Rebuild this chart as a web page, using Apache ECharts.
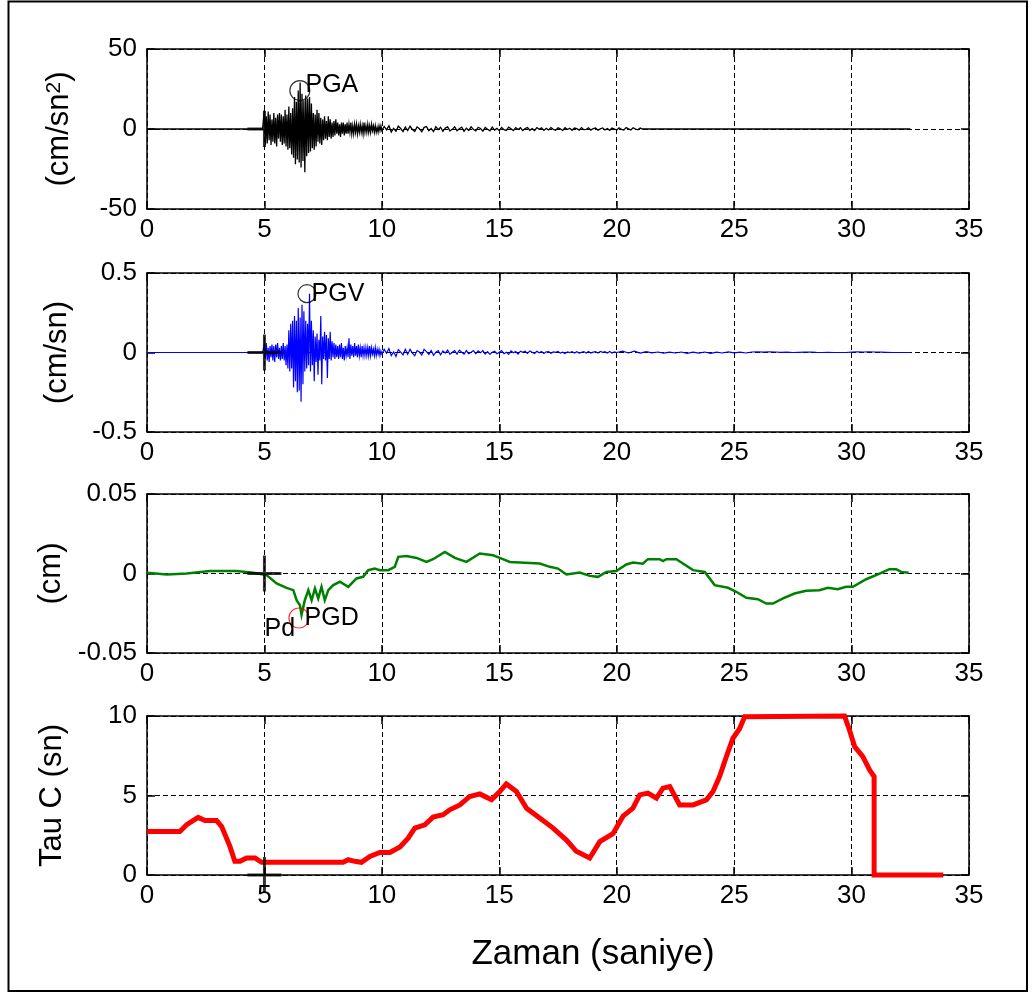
<!DOCTYPE html>
<html>
<head>
<meta charset="utf-8">
<script src="https://cdn.jsdelivr.net/npm/echarts@6/dist/echarts.min.js"></script>
<style>
  html, body { margin: 0; padding: 0; background: #fff; }
  #chart { width: 1034px; height: 999px; }
</style>
</head>
<body>
<div id="chart"></div>
<script>
// ---------- tick labels ----------
const xTicks = [0, 5, 10, 15, 20, 25, 30, 35];
const accTicks = [-50, 0, 50];
const velTicks = [-0.5, 0, 0.5];
const dispTicks = [-0.05, 0, 0.05];
const tauTicks = [0, 5, 10];

// ---------- acceleration (cm/sn^2) ----------
const accQuiet = [[0, 0], [4.92, 0]];
const accBurstStart = 4.96, accBurstStep = 0.04;
const accBurst = [
  0, 12, -10, 8, -9, 11, -7, 9, -10, 6,
  -8, 10, -9, 7, -11, 9, -6, 10, -8, 9,
  -10, 8, -9, 12, -11, 9, -13, 14, -12, 10,
  -16, 13, -18, 20, -22, 17, -19, 24, -21, 29,
  -24, 22, -20, 18, -27, 21, -17, 19, -15, 20,
  -14, 16, -12, 10, -13, 9, -11, 12, -8, 10,
  -9, 7, -10, 6, -7, 8, -6, 5, -7, 8,
  -5, 6, -6, 4, -5, 5, -4, 6, -3, 4,
  -4, 3, -5, 4, -3, 4, -4, 3, -3, 4,
  -3, 3, -2, 4, -3, 2, -3, 3, -2, 3,
  -3, 2, -2, 3, -2, 2, -3, 4, -2, 2,
  -2, 3, -2, 2, -2, 3, -1, 2, -2, 2,
  -2, 1, -2, 2, -1, 2, -1
];
const accTailStart = 10.1, accTailStep = 0.1;
const accTail = [
  1.6, -0.5, 2.0, -1.9, 0.4, -1.4, 1.8, 0.3, -1.6, 1.2,
  -1.0, 1.7, -0.3, -1.5, 1.3, 0.2, -1.8, 1.0, 1.5, -1.1,
  0.3, -1.6, 1.4, -0.4, 1.1, -1.5, 0.6, 1.3, -1.2, -0.2,
  1.4, -1.1, 0.2, 1.2, -1.4, 0.5, -0.9, 1.3, -0.3, -1.2,
  1.1, 0.3, -1.3, 1.0, -0.2, -1.1, 1.2, -0.7, 0.4, -1.0,
  1.0, -0.4, -0.9, 1.1, 0.2, -1.0, 0.9, -0.3, 0.8, -1.0,
  0.3, 0.9, -0.8, 0.2, -1.0, 0.9, -0.2, 0.7, -0.9, 0.4,
  -0.6, 0.9, -0.2, -0.8, 0.7, 0.1, -0.9, 0.8, -0.3, 0.5,
  -0.8, 0.6, 0.2, -0.7, 0.9, -0.4, -0.2, 0.8, -0.7, 0.3,
  0.6, -0.8, 0.1, 0.7, -0.6, 0.3, -0.8, 0.6, 0.0, -0.6,
  0.8, -0.2, -0.7, 0.9, 0.1, -0.6, 0.7, 0, -0.5, 0.6
];
const accLate = [
  [21.1, 0], [22.0, 0], [22.02, -0.9], [22.05, 0], [22.3, 0], [22.32, 0.7],
  [22.35, 0], [23.22, 0], [23.25, 0.9], [23.28, 0], [32.5, 0]
];

// ---------- velocity (cm/sn) ----------
const velQuiet = [[0, 0], [4.92, 0]];
const velBurstStart = 4.96, velBurstStep = 0.04;
const velBurst = [
  0, 0.05, -0.04, 0.06, -0.05, 0.03, -0.06, 0.04, -0.03, 0.05,
  -0.05, 0.04, -0.06, 0.05, -0.03, 0.06, -0.04, 0.03, -0.05, 0.04,
  -0.04, 0.06, -0.05, 0.04, -0.08, 0.05, -0.1, 0.14, -0.12, 0.18,
  -0.1, 0.2, -0.22, 0.23, -0.18, 0.2, -0.25, 0.28, -0.24, 0.22,
  -0.31, 0.3, -0.2, 0.26, -0.12, 0.2, -0.1, 0.18, -0.08, 0.37,
  -0.12, 0.2, -0.08, 0.14, -0.18, 0.1, -0.06, 0.12, -0.14, 0.08,
  -0.05, 0.23, -0.2, 0.1, -0.04, 0.13, -0.05, 0.11, -0.16, 0.09,
  -0.04, 0.13, -0.05, 0.07, -0.03, 0.06, -0.04, 0.05, -0.03, 0.04,
  -0.04, 0.05, -0.03, 0.06, -0.04, 0.03, -0.05, 0.04, -0.02, 0.03,
  -0.03, 0.09, -0.04, 0.05, -0.02, 0.04, -0.03, 0.06, -0.02, 0.04,
  -0.03, 0.05, -0.02, 0.03, -0.03, 0.04, -0.02, 0.03, -0.02, 0.03,
  -0.02, 0.03, -0.02, 0.04, -0.02, 0.03, -0.01, 0.02, -0.02, 0.03,
  -0.02, 0.02, -0.01, 0.02, -0.02, 0.01, -0.01
];
const velTailStart = 10.1, velTailStep = 0.1;
const velTail = [
  0.02, -0.005, 0.025, -0.02, 0.004, -0.025, 0.018, 0.002, -0.015, 0.02,
  -0.012, 0.02, -0.004, -0.02, 0.012, 0.003, -0.016, 0.02, 0.006, -0.012,
  0.012, -0.018, 0.002, 0.012, -0.015, 0.01, -0.004, 0.015, -0.012, 0.001,
  0.012, -0.01, 0.015, 0.002, -0.01, 0.012, -0.008, 0.001, 0.012, -0.008,
  0.01, -0.002, 0.012, -0.01, 0.006, -0.012, 0.002, 0.008, -0.008, 0.001,
  0.012, -0.008, 0.002, -0.012, 0.01, -0.002, 0.006, -0.01, 0.008, 0.001,
  0.008, -0.006, 0.01, 0.001, -0.006, 0.008, -0.002, 0.006, -0.006, 0.004,
  0.006, -0.005, 0.004, 0.001, 0.007, -0.004, 0.002, -0.006, 0.004, 0.0,
  0.006, -0.003, 0.005, -0.004, 0.001, 0.006, -0.003, 0.007, -0.004, 0.002,
  0.006, -0.004, 0.007, 0.001, 0.005, -0.004, 0.006, -0.003, 0.004, 0.0
];
const velLateStart = 20.25, velLateStep = 0.25;
const velLate = [
  0.008, -0.003, 0.009, -0.004, 0.005, -0.002, 0.003, -0.004, 0.002, -0.003,
  0.003, -0.005, 0.002, -0.004, 0.003, -0.005, 0.002, -0.003, 0.004, -0.002,
  0.002, -0.003, 0.003, 0.004, 0.002, 0.004, 0.003, 0.001, 0.002, 0,
  0.001, 0.002, 0.003, 0.001, 0, 0.001, 0, 0, 0, 0.002,
  0.004, 0.003, 0.004, 0.003, 0.002, 0.001, 0, 0, 0, 0
];

// ---------- displacement (cm), [time, value] ----------
const dispTimes = [
  0, 0.84, 1.69, 2.68, 3.82, 4.52, 5.09, 5.52, 5.94, 6.23, 6.37, 6.51, 6.58, 6.72,
  6.87, 7.01, 7.15, 7.29, 7.43, 7.57, 7.72, 7.93, 8.21, 8.57, 8.92, 9.2, 9.42, 9.7,
  9.91, 10.27, 10.55, 10.7, 11.05, 11.48, 11.9, 12.18, 12.68, 13.11, 13.6, 14.17,
  14.74, 15.1, 15.45, 15.87, 16.72, 17.15, 17.5, 17.86, 18.43, 18.85, 19.2, 19.56,
  19.98, 20.41, 20.69, 21.11, 21.33, 21.83, 21.97, 22.11, 22.54, 22.82, 23.25, 23.75,
  24.17, 24.74, 25.09, 25.52, 26.01, 26.37, 26.65, 27.08, 27.57, 28.07, 28.63, 28.99,
  29.41, 29.77, 30.06, 30.62, 31.12, 31.61, 31.9, 32.11, 32.43
];
const dispValues = [
  0.0004, -0.0006, 0, 0.0015, 0.0015, 0.0004, -0.001, -0.0063, -0.009, -0.0105,
  -0.0168, -0.02, -0.026, -0.0168, -0.0105, -0.0168, -0.0094, -0.0157, -0.0084,
  -0.0168, -0.0105, -0.0073, -0.0052, -0.0084, -0.0031, -0.0021, 0.0021, 0.0031,
  0.0021, 0.0021, 0.0042, 0.0105, 0.011, 0.0098, 0.0073, 0.009, 0.0136, 0.0098,
  0.0073, 0.0126, 0.0115, 0.0094, 0.0073, 0.0069, 0.0063, 0.0042, 0.0031, -0.0006,
  0.0006, -0.0015, -0.0021, 0.001, 0.0015, 0.0057, 0.0069, 0.0061, 0.009, 0.009,
  0.0078, 0.009, 0.009, 0.0063, 0.0021, 0.001, -0.0073, -0.009, -0.0115, -0.0153,
  -0.0162, -0.0189, -0.0189, -0.0157, -0.0126, -0.0109, -0.0105, -0.009, -0.0099,
  -0.0084, -0.0084, -0.0036, -0.0006, 0.0027, 0.0027, 0.001, 0.0004
];

// ---------- Tau C (sn), [time, value] ----------
const tauTimes = [
  0, 1.4, 1.69, 2.18, 2.47, 2.96, 3.18, 3.53, 3.74, 3.96, 4.24, 4.6, 4.88, 8.35,
  8.57, 8.85, 9.13, 9.49, 9.91, 10.34, 10.77, 11.12, 11.4, 11.83, 12.18, 12.61,
  12.89, 13.32, 13.74, 14.17, 14.67, 15.02, 15.3, 15.73, 16.16, 16.72, 17.29, 17.86,
  18.28, 18.85, 19.28, 19.84, 20.27, 20.69, 20.98, 21.33, 21.69, 21.97, 22.26, 22.68,
  23.25, 23.82, 24.1, 24.38, 24.67, 24.95, 25.23, 25.45, 25.52, 29.7, 29.91, 30.13,
  30.48, 30.77, 30.96, 30.96, 33.9
];
const tauValues = [
  2.74, 2.74, 3.16, 3.62, 3.43, 3.43, 3.05, 1.8, 0.86, 0.86, 1.07, 1.07, 0.8, 0.8,
  0.96, 0.86, 0.8, 1.17, 1.42, 1.42, 1.76, 2.32, 2.95, 3.16, 3.64, 3.79,
  4.1, 4.41, 4.94, 5.1, 4.73, 5.25, 5.73, 5.25, 4.2, 3.58, 2.95, 2.2,
  1.49, 1.07, 2.1, 2.6, 3.7, 4.2, 5.04, 5.15, 4.83, 5.46, 5.56, 4.41,
  4.41, 4.73, 5.25, 6.19, 7.45, 8.6, 9.2, 9.96, 10, 10, 9.12, 8.08,
  7.45, 6.6, 6.19, 0, 0
];

// ---------- picked points ----------
const pWaveTime = 5;
const pgaPoint = [6.51, 24];
const pgvPoint = [6.81, 0.37];
const pgdPoint = [6.47, -0.028];
const pdPoint = [4.98, -0.035];

// ---------- helpers ----------
function sampled(start, step, values) {
  return values.map((v, i) => [+(start + i * step).toFixed(3), v]);
}
function zip(ts, vs) { return ts.map((t, i) => [t, vs[i]]); }

const accData = accQuiet.concat(sampled(accBurstStart, accBurstStep, accBurst),
  sampled(accTailStart, accTailStep, accTail), accLate);
const velData = velQuiet.concat(sampled(velBurstStart, velBurstStep, velBurst),
  sampled(velTailStart, velTailStep, velTail), sampled(velLateStart, velLateStep, velLate));
const dispData = zip(dispTimes, dispValues);
const tauData = zip(tauTimes, tauValues);

const FONT = "'Liberation Sans', Arial, sans-serif";
const gridTops = [49, 273, 494, 716];
const gridHeights = [160, 159, 159, 159];
const yRanges = [accTicks, velTicks, dispTicks, tauTicks];
const yNames = ['{n|(cm/sn}{s|2}{n|)}', '(cm/sn)', '(cm)', 'Tau C (sn)'];
const yNameGaps = [72, 74, 74, 79];

const grids = [], xAxes = [], yAxes = [];
gridTops.forEach((top, i) => {
  grids.push({ left: 147, width: 822, top: top, height: gridHeights[i], containLabel: false });
  const ticks = yRanges[i];
  const yMin = ticks[0], yMax = ticks[ticks.length - 1];
  const yInt = ticks[1] - ticks[0];
  const dash = { color: '#000', width: 1, type: [5, 3] };
  // bottom axis with labels and vertical grid lines
  xAxes.push({
    gridIndex: i, type: 'value', min: xTicks[0], max: xTicks[xTicks.length - 1],
    interval: xTicks[1] - xTicks[0], position: 'bottom',
    axisLine: { show: true, onZero: false, lineStyle: { color: '#000', width: 1.5 } },
    axisTick: { show: true, inside: true, length: 8, lineStyle: { color: '#000', width: 1.5 } },
    axisLabel: { show: true, margin: 8, fontSize: 26, color: '#000', fontFamily: FONT },
    splitLine: { show: true, lineStyle: dash }
  });
  // top box edge
  xAxes.push({
    gridIndex: i, type: 'value', min: xTicks[0], max: xTicks[xTicks.length - 1],
    interval: xTicks[1] - xTicks[0], position: 'top',
    axisLine: { show: true, onZero: false, lineStyle: { color: '#000', width: 1.5 } },
    axisTick: { show: true, inside: true, length: 8, lineStyle: { color: '#000', width: 1.5 } },
    axisLabel: { show: false }, splitLine: { show: false }
  });
  // left axis with labels and horizontal grid lines
  yAxes.push({
    gridIndex: i, type: 'value', min: yMin, max: yMax, interval: yInt, position: 'left',
    name: yNames[i], nameLocation: 'middle', nameRotate: 90, nameGap: yNameGaps[i],
    nameTextStyle: {
      fontSize: 31, color: '#000', fontFamily: FONT,
      rich: {
        n: { fontSize: 31, color: '#000', fontFamily: FONT },
        s: { fontSize: 21, color: '#000', fontFamily: FONT, verticalAlign: 'top', lineHeight: 31 }
      }
    },
    axisLine: { show: true, onZero: false, lineStyle: { color: '#000', width: 1.5 } },
    axisTick: { show: true, inside: true, length: 8, lineStyle: { color: '#000', width: 1.5 } },
    axisLabel: { show: true, margin: 10, fontSize: 26, color: '#000', fontFamily: FONT },
    splitLine: { show: true, lineStyle: dash }
  });
  // right box edge
  yAxes.push({
    gridIndex: i, type: 'value', min: yMin, max: yMax, interval: yInt, position: 'right',
    axisLine: { show: true, onZero: false, lineStyle: { color: '#000', width: 1.5 } },
    axisTick: { show: true, inside: true, length: 8, lineStyle: { color: '#000', width: 1.5 } },
    axisLabel: { show: false }, splitLine: { show: false }
  });
});

// plus-shaped marker for the P-wave pick
const plusPath = 'path://M-1.5,-17 L1.5,-17 L1.5,-1.5 L17,-1.5 L17,1.5 L1.5,1.5 L1.5,17 L-1.5,17 L-1.5,1.5 L-17,1.5 L-17,-1.5 L-1.5,-1.5 Z';

function lineSeries(i, data, color, width, clip) {
  return {
    type: 'line', xAxisIndex: 2 * i, yAxisIndex: 2 * i, data: data,
    showSymbol: false, symbol: 'none', sampling: null, clip: clip,
    lineStyle: { color: color, width: width, join: 'miter' }, z: 3, silent: true
  };
}
function plusSeries(i) {
  return {
    type: 'scatter', xAxisIndex: 2 * i, yAxisIndex: 2 * i, data: [[pWaveTime, 0]],
    symbol: plusPath, symbolSize: [34, 36], itemStyle: { color: '#000' }, z: 5, silent: true
  };
}
const labelText = {
  fontSize: 25, color: '#000', fontFamily: FONT, textBorderWidth: 0, opacity: 1
};
function pickSeries(i, point, color, text, size, labelOffset) {
  return {
    type: 'scatter', xAxisIndex: 2 * i, yAxisIndex: 2 * i, data: [point],
    symbol: 'circle', symbolSize: size,
    itemStyle: { color: 'rgba(0,0,0,0)', borderColor: color, borderWidth: 1.2 },
    label: Object.assign({
      show: true, formatter: text, position: 'right', distance: -5, offset: labelOffset
    }, labelText),
    z: 6, silent: true
  };
}

const series = [
  lineSeries(0, accData, '#000000', 1.3, true),
  plusSeries(0),
  pickSeries(0, pgaPoint, '#000', 'PGA', 20, [0, -5]),
  lineSeries(1, velData, '#0000ff', 1.2, true),
  plusSeries(1),
  pickSeries(1, pgvPoint, '#000', 'PGV', 18, [0, 0]),
  lineSeries(2, dispData, '#008000', 2.5, true),
  plusSeries(2),
  pickSeries(2, pgdPoint, '#ff0000', 'PGD', 20, [0, 0]),
  {
    type: 'scatter', xAxisIndex: 4, yAxisIndex: 4, data: [pdPoint],
    symbol: 'circle', symbolSize: 1, itemStyle: { color: 'rgba(0,0,0,0)' },
    label: Object.assign({ show: true, formatter: 'Pd', position: 'right', distance: 0 }, labelText),
    z: 6, silent: true
  },
  lineSeries(3, tauData, '#ff0000', 5, false),
  plusSeries(3)
];

const chart = echarts.init(document.getElementById('chart'), null, { renderer: 'canvas' });
chart.setOption({
  backgroundColor: '#fff',
  animation: false,
  grid: grids,
  xAxis: xAxes,
  yAxis: yAxes,
  series: series,
  graphic: [
    {
      type: 'rect', silent: true, z: 100,
      shape: { x: 8.5, y: 1.5, width: 1018.5, height: 989.5 },
      style: { fill: 'none', stroke: '#000', lineWidth: 2 }
    },
    {
      type: 'text', silent: true, z: 100, x: 593, y: 954,
      style: {
        text: 'Zaman (saniye)', fontSize: 35, fill: '#000', fontFamily: FONT,
        align: 'center', verticalAlign: 'middle'
      }
    }
  ]
});
</script>
</body>
</html>
